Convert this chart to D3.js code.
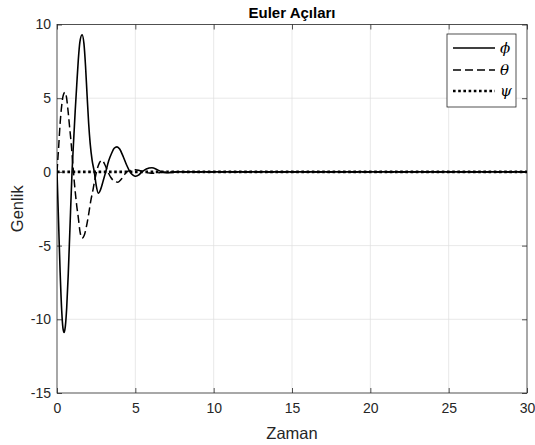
<!DOCTYPE html>
<html><head><meta charset="utf-8">
<script src="https://cdn.jsdelivr.net/npm/d3@7"></script>
<style>body{margin:0;background:#fff} text{font-family:"Liberation Sans",Arial,sans-serif}</style>
</head><body><svg id="c" width="535" height="445"></svg>
<script>
const xTicks=[0,5,10,15,20,25,30];
const yTicks=[-15,-10,-5,0,5,10];
const phi=[[0,0],[0.1,-3.4],[0.2,-6.8],[0.3,-9.4],[0.38,-10.6],[0.45,-10.9],[0.53,-10.5],[0.62,-9.2],[0.72,-6.9],[0.82,-4.0],[0.96,0],[1.06,2.1],[1.16,4.1],[1.26,5.9],[1.36,7.6],[1.46,8.8],[1.6,9.3],[1.72,8.7],[1.82,7.2],[1.92,5.2],[2.02,3.3],[2.12,1.9],[2.24,0.8],[2.38,0],[2.5,-0.9],[2.64,-1.45],[2.78,-1.2],[2.95,-0.6],[3.11,0],[3.3,0.75],[3.5,1.3],[3.65,1.6],[3.83,1.7],[4.0,1.55],[4.2,1.1],[4.45,0.45],[4.66,0],[4.85,-0.22],[5.0,-0.3],[5.2,-0.22],[5.42,0],[5.7,0.2],[6.06,0.28],[6.4,0.15],[6.7,0],[7.1,-0.06],[7.6,0],[30,0]];
const theta=[[0,0],[0.1,1.6],[0.2,3.3],[0.3,4.5],[0.4,5.2],[0.51,5.4],[0.6,5.1],[0.7,4.2],[0.8,3.1],[0.9,2.0],[1.05,0],[1.15,-1.2],[1.26,-2.3],[1.36,-3.1],[1.46,-4.0],[1.6,-4.5],[1.74,-4.3],[1.86,-3.8],[2.0,-3.0],[2.15,-2.0],[2.3,-1.2],[2.42,-0.5],[2.52,0],[2.7,0.6],[2.87,0.8],[3.05,0.5],[3.25,0],[3.45,-0.4],[3.65,-0.62],[3.89,-0.7],[4.1,-0.5],[4.3,-0.2],[4.45,0],[4.7,0.1],[5.0,0.15],[5.3,0.08],[5.6,0],[5.9,-0.08],[6.2,-0.1],[6.6,-0.04],[7.0,0],[30,0]];
const psi=[[0,0],[30,0]];
const legendLabels=["\u03d5","\u03b8","\u03c8"];
const titleText="Euler Açıları", xLabel="Zaman", yLabel="Genlik";

const svg=d3.select("#c");
const L=57,R=527,T=24.5,B=393;
const x=d3.scaleLinear().domain([0,30]).range([L,R]);
const y=d3.scaleLinear().domain([-15,10]).range([B,T]);
const axc="#262626";
const fmt=d=>String(d);

// grid
svg.append("g").selectAll("line").data(xTicks.slice(1,-1)).join("line")
 .attr("x1",d=>x(d)).attr("x2",d=>x(d)).attr("y1",T).attr("y2",B)
 .attr("stroke","#dfdfdf").attr("stroke-width",0.7);
svg.append("g").selectAll("line").data(yTicks.slice(1,-1)).join("line")
 .attr("y1",d=>y(d)).attr("y2",d=>y(d)).attr("x1",L).attr("x2",R)
 .attr("stroke","#dfdfdf").attr("stroke-width",0.7);

// axes (inward ticks on all sides)
const tl=5;
const gB=svg.append("g").attr("transform",`translate(0,${B})`)
 .call(d3.axisBottom(x).tickValues(xTicks).tickFormat(fmt).tickSizeInner(-tl).tickSizeOuter(0).tickPadding(10));
const gT=svg.append("g").attr("transform",`translate(0,${T})`)
 .call(d3.axisTop(x).tickValues(xTicks).tickSizeInner(-tl).tickSizeOuter(0).tickFormat(""));
const gL=svg.append("g").attr("transform",`translate(${L},0)`)
 .call(d3.axisLeft(y).tickValues(yTicks).tickFormat(fmt).tickSizeInner(-tl).tickSizeOuter(0).tickPadding(6));
const gR=svg.append("g").attr("transform",`translate(${R},0)`)
 .call(d3.axisRight(y).tickValues(yTicks).tickSizeInner(-tl).tickSizeOuter(0).tickFormat(""));
[gB,gT,gL,gR].forEach(g=>{
  g.select(".domain").remove();
  g.selectAll("line").attr("stroke",axc).attr("stroke-width",0.8);
  g.selectAll("text").attr("fill",axc).style("font-size","14px").style("font-family","'Liberation Sans',Arial,sans-serif");
});
svg.append("rect").attr("x",L).attr("y",T).attr("width",R-L).attr("height",B-T)
 .attr("fill","none").attr("stroke",axc).attr("stroke-width",0.8);

// lines
svg.append("clipPath").attr("id","pc").append("rect").attr("x",L).attr("y",T).attr("width",R-L).attr("height",B-T);
const line=d3.line().x(d=>x(d[0])).y(d=>y(d[1])).curve(d3.curveMonotoneX);
const styles=[{w:1.6,da:null},{w:1.5,da:"8,4"},{w:2.6,da:"2.6,2.6"}];
const series=[phi,theta,psi];
const pg=svg.append("g").attr("clip-path","url(#pc)");
series.forEach((s,i)=>{
  pg.append("path").attr("d",line(s)).attr("fill","none").attr("stroke","#000")
   .attr("stroke-width",styles[i].w).attr("stroke-dasharray",styles[i].da);
});

// legend
const lg=svg.append("g");
lg.append("rect").attr("x",447).attr("y",34).attr("width",69).attr("height",73)
 .attr("fill","#fff").attr("stroke",axc).attr("stroke-width",0.8);
const ly=[48,70,91];
legendLabels.forEach((t,i)=>{
  lg.append("line").attr("x1",453).attr("x2",495).attr("y1",ly[i]).attr("y2",ly[i])
   .attr("stroke","#000").attr("stroke-width",styles[i].w).attr("stroke-dasharray",styles[i].da);
  lg.append("text").attr("x",500).attr("y",ly[i]+5).text(t)
   .style("font-family","'DejaVu Serif','Liberation Serif',serif").style("font-style","italic").style("font-size","15px");
});

// texts
svg.append("text").attr("x",(L+R)/2).attr("y",18).attr("text-anchor","middle")
 .style("font-weight","bold").style("font-size","15px").text(titleText);
svg.append("text").attr("x",(L+R)/2).attr("y",439).attr("text-anchor","middle")
 .attr("fill",axc).style("font-size","16.5px").text(xLabel);
svg.append("text").attr("transform",`translate(23,${(T+B)/2}) rotate(-90)`).attr("text-anchor","middle")
 .attr("fill",axc).style("font-size","16.5px").text(yLabel);
</script></body></html>
